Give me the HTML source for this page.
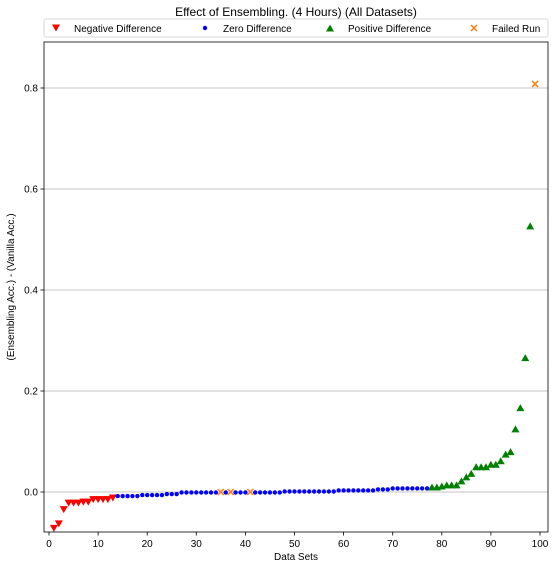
<!DOCTYPE html>
<html><head><meta charset="utf-8"><style>
body{margin:0;background:#fff;font-family:"Liberation Sans","DejaVu Sans",sans-serif;}
</style></head><body>
<svg id="chart" width="557" height="569" xmlns="http://www.w3.org/2000/svg" font-family="Liberation Sans, DejaVu Sans, sans-serif"></svg>
<script>
const negX=[1,2,3,4,5,6,7,8,9,10,11,12,13];
const negY=[-0.072,-0.063,-0.035,-0.022,-0.022,-0.022,-0.02,-0.02,-0.015,-0.015,-0.015,-0.015,-0.012];
const zeroX=[];for(let i=14;i<=77;i++){if(i!==35&&i!==37&&i!==41)zeroX.push(i);}
const zeroY=[-0.008,-0.008,-0.008,-0.008,-0.008,-0.006,-0.006,-0.006,-0.006,-0.006,-0.004,-0.004,-0.004,-0.001,-0.001,-0.001,-0.001,-0.001,-0.001,-0.001,-0.001,-0.001,-0.001,-0.001,-0.001,-0.001,-0.001,-0.001,-0.001,-0.001,-0.001,0.001,0.001,0.001,0.001,0.001,0.001,0.001,0.001,0.001,0.001,0.001,0.003,0.003,0.003,0.003,0.003,0.003,0.003,0.003,0.005,0.005,0.005,0.007,0.007,0.007,0.007,0.007,0.007,0.007,0.007,0.009];
const posX=[78,79,80,81,82,83,84,85,86,87,88,89,90,91,92,93,94,95,96,97,98];
const posY=[0.01,0.01,0.012,0.014,0.014,0.014,0.022,0.03,0.037,0.05,0.05,0.05,0.055,0.055,0.062,0.075,0.08,0.125,0.167,0.266,0.527];
const failX=[35,37,41,99];
const failY=[0,0,0,0.808];
const xTicks=[0,10,20,30,40,50,60,70,80,90,100];
const yTicks=[0,0.2,0.4,0.6,0.8];
const svg=document.getElementById('chart');const NS='http://www.w3.org/2000/svg';
const L=44,R=548,T=42,B=532;
const sx=v=>49+v*(540-49)/100;
const sy=v=>492-v*(492-88)/0.8;
function mk(tag,at,parent){const e=document.createElementNS(NS,tag);for(const k in at)e.setAttribute(k,at[k]);(parent||svg).appendChild(e);return e;}
function txt(s,at){const e=mk('text',at);e.textContent=s;return e;}
const grid=mk('g',{});


yTicks.forEach(v=>{mk('line',{x1:L,x2:R,y1:sy(v),y2:sy(v),stroke:'#b0b0b0','stroke-width':0.8},grid);});
const ax=mk('rect',{x:L,y:T,width:R-L,height:B-T,fill:'none',stroke:'#000','stroke-width':0.8});


xTicks.forEach(v=>{mk('line',{x1:sx(v),x2:sx(v),y1:B,y2:B+3.5,stroke:'#000','stroke-width':0.8});
const t=txt(String(v),{x:sx(v),y:B+15,'font-size':10,'text-anchor':'middle'});

});
yTicks.forEach(v=>{mk('line',{x1:L-3.5,x2:L,y1:sy(v),y2:sy(v),stroke:'#000','stroke-width':0.8});
const t=txt(v.toFixed(1),{x:L-6,y:sy(v)+3.5,'font-size':10,'text-anchor':'end'});

});
let t=txt('Data Sets',{x:(L+R)/2,y:560,'font-size':10,'text-anchor':'middle'});


t=txt('(Ensembling Acc.) - (Vanilla Acc.)',{x:0,y:0,'font-size':10,'text-anchor':'middle',transform:'translate(14,287) rotate(-90)'});


t=txt('Effect of Ensembling. (4 Hours) (All Datasets)',{x:(L+R)/2,y:16,'font-size':12,'text-anchor':'middle'});


function down(x,y,c,p){return mk('polygon',{points:`${x-4},${y-3.5} ${x+4},${y-3.5} ${x},${y+3.5}`,fill:c},p);}
function up(x,y,c,p){return mk('polygon',{points:`${x-4},${y+3.5} ${x+4},${y+3.5} ${x},${y-3.5}`,fill:c},p);}
function dot(x,y,c,p){return mk('circle',{cx:x,cy:y,r:2.2,fill:c},p);}
function cross(x,y,c,p){const g=mk('g',{},p);mk('path',{d:`M${x-3},${y-3}L${x+3},${y+3}M${x-3},${y+3}L${x+3},${y-3}`,stroke:c,'stroke-width':1.5},g);return g;}
negX.forEach((x,i)=>{const e=down(sx(x),sy(negY[i]),'#ff0000');

});
zeroX.forEach((x,i)=>{const e=dot(sx(x),sy(zeroY[i]),'#0000ff');

});
posX.forEach((x,i)=>{const e=up(sx(x),sy(posY[i]),'#008000');

});
failX.forEach((x,i)=>{const e=cross(sx(x),sy(failY[i]),'#ff7f0e');

});
const lg=mk('g',{});


mk('rect',{x:L,y:19,width:R-L,height:18,fill:'#fff',stroke:'#ccc','stroke-width':0.8,rx:2},lg);
const items=[['Negative Difference',down,'#ff0000',56],['Zero Difference',dot,'#0000ff',205],['Positive Difference',up,'#008000',330],['Failed Run',cross,'#ff7f0e',474]];
items.forEach(it=>{const m=it[1](it[3],28,it[2],lg);


const tt=mk('text',{x:it[3]+18,y:32,'font-size':10},lg);tt.textContent=it[0];

});
</script>
</body></html>
